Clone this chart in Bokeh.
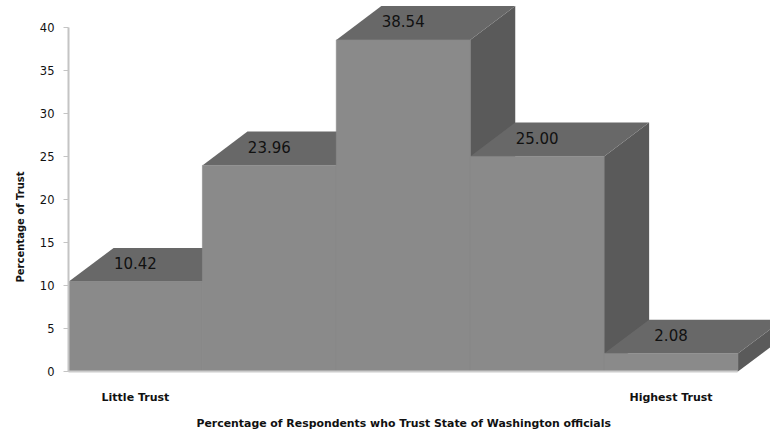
from bokeh.plotting import figure
from bokeh.embed import file_html
from bokeh.resources import INLINE
from bokeh.models import FixedTicker, Title, Range1d
from bokeh.core.properties import value

categories = ["Little Trust", "", "", "", "Highest Trust"]
values = [10.42, 23.96, 38.54, 25.00, 2.08]
value_labels = ["10.42", "23.96", "38.54", "25.00", "2.08"]
y_ticks = [0, 5, 10, 15, 20, 25, 30, 35, 40]
x_title = "Percentage of Respondents who Trust State of Washington officials"
y_title = "Percentage of Trust"

DX, DY = 0.3366, 3.94   # oblique depth of the fake 3-D bars, in data units
xs = list(range(len(values)))

p = figure(width=770, height=437, output_backend="svg", toolbar_location=None,
           x_range=Range1d(-0.5, 4.743), y_range=Range1d(0, 43.13),
           min_border_left=68, min_border_right=0, min_border_top=0, min_border_bottom=0,
           outline_line_color=None, background_fill_color="white",
           styles={"position": "absolute", "left": "0", "top": "0"})
p.grid.visible = False

# faces
top_x = [[i - .5, i - .5 + DX, i + .5 + DX, i + .5] for i in xs]
top_y = [[v, v + DY, v + DY, v] for v in values]
side_x = [[i + .5, i + .5 + DX, i + .5 + DX, i + .5] for i in xs]
side_y = [[v, v + DY, DY, 0] for v in values]
order = [4, 3, 2, 1, 0]
p.patches([side_x[i] for i in order], [side_y[i] for i in order], fill_color="#5a5a5a", line_color=None)
p.patches([top_x[i] for i in order], [top_y[i] for i in order], fill_color="#686868", line_color=None)
p.vbar(x=xs, top=values, bottom=0, width=1, fill_color="#8a8a8a", line_color="#8a8a8a", line_width=0.6)

p.text(x=xs, y=[v + DY / 2 + 0.2 for v in values], text=value_labels,
       text_font=value("DejaVu Sans"), text_font_size="15px", text_color="#111111",
       text_align="center", text_baseline="middle")

ax = p.xaxis[0]
ax.ticker = FixedTicker(ticks=[0, 4])
ax.major_label_overrides = {0: categories[0], 4: categories[4]}
ax.major_tick_line_color = None
ax.minor_tick_line_color = None
ax.bounds = (-0.5, 4.5)
ax.axis_line_color = "#cccccc"
ax.axis_line_width = 2
ax.major_label_standoff = 13
ax.major_label_text_font = "DejaVu Sans"
ax.major_label_text_font_style = "bold"
ax.major_label_text_font_size = "11px"
ax.major_label_text_color = "#111111"

ay = p.yaxis[0]
ay.ticker = FixedTicker(ticks=y_ticks)
ay.bounds = (0, 40)
ay.minor_tick_line_color = None
ay.axis_line_color = "#c4c4c4"
ay.axis_line_width = 2
ay.major_tick_line_color = "#c4c4c4"
ay.major_tick_in = 0
ay.major_tick_out = 5
ay.major_label_standoff = 9
ay.major_label_text_font = "DejaVu Sans"
ay.major_label_text_font_size = "11.5px"
ay.major_label_text_color = "#111111"

p.add_layout(Title(text=x_title, align="left", offset=128, standoff=16,
                   text_font="DejaVu Sans", text_font_style="bold", text_font_size="10.9px",
                   text_color="#111111"), "below")
p.add_layout(Title(text=y_title, align="left", offset=89, standoff=22,
                   text_font="DejaVu Sans", text_font_style="bold", text_font_size="10px",
                   text_color="#111111"), "left")

open("out.html", "w").write(file_html(p, INLINE))
